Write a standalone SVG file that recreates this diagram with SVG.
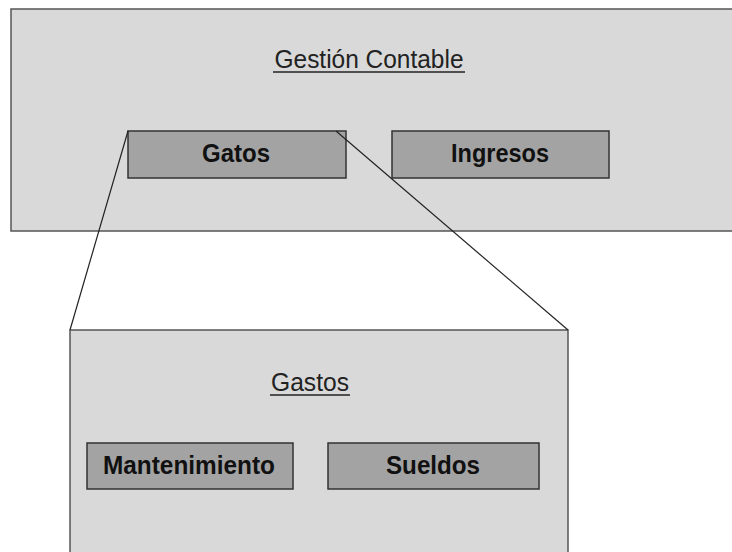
<svg xmlns="http://www.w3.org/2000/svg" width="732" height="552" viewBox="0 0 732 552">
  <style>
    .panel { fill: #d9d9d9; stroke: #555555; stroke-width: 1.5; }
    .item { fill: #a3a3a3; stroke: #333333; stroke-width: 1.5; }
    .title { font-family: "Liberation Sans", Arial, sans-serif; font-size: 25px; fill: #222222; text-anchor: middle; }
    .label { font-family: "Liberation Sans", Arial, sans-serif; font-size: 25px; font-weight: bold; fill: #111111; text-anchor: middle; }
    .uline { stroke: #222222; stroke-width: 1.4; }
    .link { stroke: #222222; stroke-width: 1.2; fill: none; }
  </style>

  <!-- Main panel -->
  <g id="gestion-contable">
    <rect class="panel" x="11" y="9" width="730" height="222"/>
    <text class="title" x="369" y="68" textLength="189" lengthAdjust="spacingAndGlyphs">Gestión Contable</text>
    <line class="uline" x1="273" y1="72" x2="465" y2="72"/>
  </g>

  <!-- Expanded detail panel -->
  <g id="gastos">
    <rect class="panel" x="70" y="330" width="498" height="240"/>
    <text class="title" x="310" y="391" textLength="78" lengthAdjust="spacingAndGlyphs">Gastos</text>
    <line class="uline" x1="270" y1="395" x2="350" y2="395"/>
  </g>

  <g id="gatos">
    <rect class="item" x="128" y="131" width="218" height="47"/>
    <text class="label" x="236" y="162" textLength="68" lengthAdjust="spacingAndGlyphs">Gatos</text>
  </g>

  <g id="ingresos">
    <rect class="item" x="392" y="131" width="217" height="47"/>
    <text class="label" x="500" y="162" textLength="98" lengthAdjust="spacingAndGlyphs">Ingresos</text>
  </g>

  <g id="mantenimiento">
    <rect class="item" x="87" y="443" width="206" height="46"/>
    <text class="label" x="189" y="474" textLength="172" lengthAdjust="spacingAndGlyphs">Mantenimiento</text>
  </g>

  <g id="sueldos">
    <rect class="item" x="328" y="443" width="211" height="46"/>
    <text class="label" x="433" y="474" textLength="94" lengthAdjust="spacingAndGlyphs">Sueldos</text>
  </g>

  <!-- Zoom lines from the Gatos box to the detail panel -->
  <g id="connectors">
    <line class="link" x1="128" y1="131" x2="70" y2="330"/>
    <line class="link" x1="336" y1="131" x2="568" y2="330"/>
  </g>
</svg>
